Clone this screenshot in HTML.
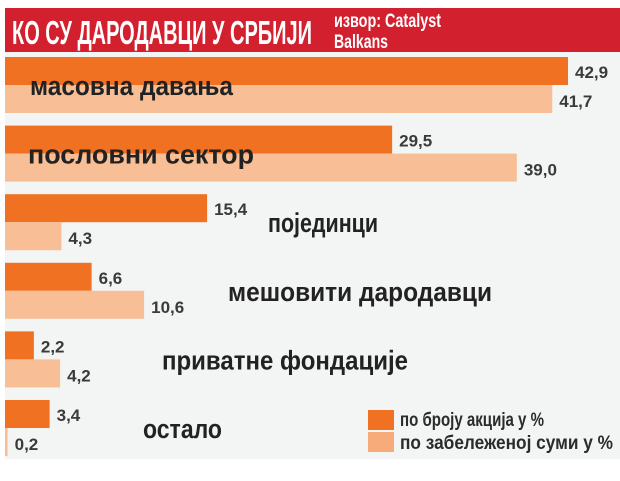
<!DOCTYPE html>
<html><head><meta charset="utf-8"><style>
body{margin:0;background:#fff;}
svg{display:block;}
text{font-family:"Liberation Sans Narrow","Liberation Sans","Noto Sans CJK SC",sans-serif;font-weight:bold;}
</style></head><body>
<svg id="chart" width="620" height="481">
<rect x="5" y="8" width="615" height="44" fill="#d3202e"/>
<text x="12" y="44" fill="#fff" font-size="33" textLength="300" lengthAdjust="spacingAndGlyphs">КО СУ ДАРОДАВЦИ У СРБИЈИ</text>
<text x="334" y="27" fill="#fff" font-size="19" textLength="107" lengthAdjust="spacingAndGlyphs">извор: Catalyst</text>
<text x="334" y="48" fill="#fff" font-size="19" textLength="54" lengthAdjust="spacingAndGlyphs">Balkans</text>
<rect x="5" y="52" width="615" height="407" fill="#f3f4f4"/>
<g id="bars"></g>
<rect x="368" y="410" width="26" height="20" fill="#f07122"/>
<rect x="368" y="432" width="26" height="20" fill="#f8ab7a"/>
<text x="400" y="426" fill="#2b2b2b" font-size="19" textLength="144" lengthAdjust="spacingAndGlyphs">по броју акција у %</text>
<text x="400" y="449" fill="#2b2b2b" font-size="19" textLength="213" lengthAdjust="spacingAndGlyphs">по забележеној суми у %</text>
</svg>
<script>
const categories=["масовна давања","пословни сектор","појединци","мешовити дародавци","приватне фондације","остало"];
const actionsPct=[42.9,29.5,15.4,6.6,2.2,3.4];
const sumPct=[41.7,39.0,4.3,10.6,4.2,0.2];
const labelX=[30,28,268,228,162,143];
const labelW=[203,226,110,264,246,79];
const ns="http://www.w3.org/2000/svg";
const g=document.getElementById('bars');
const x0=5, scale=(568-5)/42.9;
function xs(v){return x0+v*scale;}
function fmt(v){return v.toFixed(1).replace('.',',');}
function mk(tag,attrs){const e=document.createElementNS(ns,tag);for(const k in attrs)e.setAttribute(k,attrs[k]);g.appendChild(e);return e;}
categories.forEach((c,i)=>{
  const y=57+i*68.6;
  const b1=mk('rect',{x:x0,y:y,width:xs(actionsPct[i])-x0,height:28,fill:'#f07122'});
  
  
  const b2=mk('rect',{x:x0,y:y+28,width:xs(sumPct[i])-x0,height:28,fill:'#f8bf96'});
  
  
  const t1=mk('text',{x:xs(actionsPct[i])+7,y:y+21,fill:'#3a3a3a','font-size':17});
  t1.textContent=fmt(actionsPct[i]);
  
  
  const t2=mk('text',{x:xs(sumPct[i])+7,y:y+50,fill:'#3a3a3a','font-size':17});
  t2.textContent=fmt(sumPct[i]);
  
  
  const l=mk('text',{x:labelX[i],y:y+38,fill:'#222','font-size':27,textLength:labelW[i],lengthAdjust:'spacingAndGlyphs'});
  l.textContent=c;
  
  
});
</script>
</body></html>
